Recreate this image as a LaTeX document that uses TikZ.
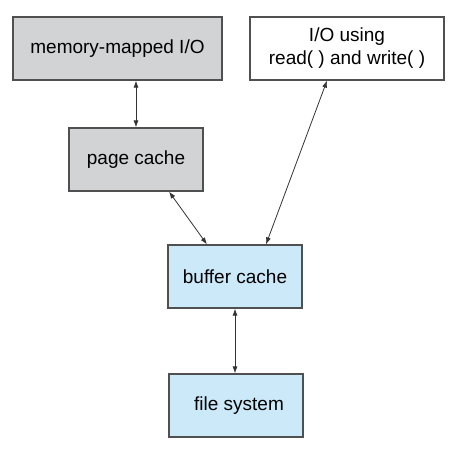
\documentclass[tikz,border=0pt]{standalone}
\usepackage{fontspec}
\setmainfont{Liberation Sans}
\usetikzlibrary{arrows.meta}
\definecolor{boxgray}{RGB}{209,211,212}
\definecolor{boxblue}{RGB}{204,233,249}
\definecolor{edgegray}{RGB}{80,80,80}
\tikzset{
  layer/.style={draw=edgegray,line width=1.2pt,inner sep=0pt,
    font=\fontsize{19}{23}\selectfont,align=center},
  grayl/.style={layer,fill=boxgray},
  bluel/.style={layer,fill=boxblue},
  link/.style={{Latex[length=7pt,width=5pt]}-{Latex[length=7pt,width=5pt]},
    draw=black!80,line width=0.8pt}
}
\begin{document}
\begin{tikzpicture}[x=1pt,y=-1pt]
\useasboundingbox (0,0) rectangle (458,451);
\node[grayl,minimum width=209pt,minimum height=63pt] (mmio) at (117.5,48.5) {memory-mapped I/O};
\node[layer,fill=white,minimum width=194pt,minimum height=63pt] (rwio) at (347,48.5) {I/O using\\read( ) and write( )};
\node[grayl,minimum width=134pt,minimum height=63pt] (page) at (136,159.5) {page cache};
\node[bluel,minimum width=134pt,minimum height=63pt] (buffer) at (235,276.5) {buffer cache};
\node[bluel,minimum width=134pt,minimum height=63pt] (fs) at (236,405.5) {\hspace{6pt}file system};
% connectors
\draw[link] (page.north |- mmio.south) -- (page.north);
\draw[link] ([xshift=33pt]page.south) -- ([xshift=-28pt]buffer.north);
\draw[link] ([xshift=31pt]buffer.north) -- ([xshift=-20pt]rwio.south);
\draw[link] (buffer.south) -- (buffer.south |- fs.north);
\end{tikzpicture}
\end{document}
